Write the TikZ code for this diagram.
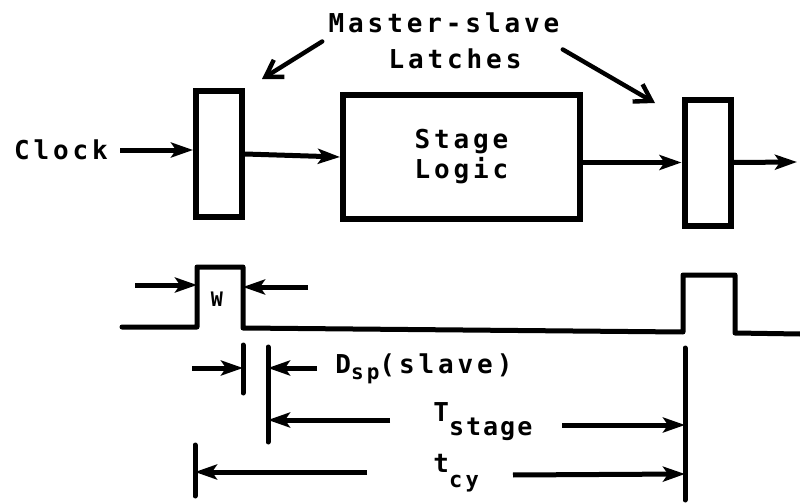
\documentclass[tikz,border=0pt]{standalone}
\usepackage{fontspec}
\setmainfont{DejaVu Sans Mono}[LetterSpace=15]
\usetikzlibrary{arrows.meta,positioning}

\begin{document}
\begin{tikzpicture}[x=0.5pt,y=-0.5pt,
  box/.style={draw,line width=3pt,inner sep=0pt},
  latch/.style={box,minimum width=23pt,minimum height=63pt},
  sig/.style={line width=2.5pt,-{Stealth[length=11pt,width=7.5pt,inset=2.5pt]}},
  pointer/.style={line width=2.2pt,line cap=round,-{Straight Barb[length=8pt,width=10pt]}},
  tick/.style={line width=2.5pt,line cap=round},
  wave/.style={line width=2.5pt,line join=round,line cap=round},
  lbl/.style={font=\fontsize{13}{15}\selectfont\bfseries,inner sep=0pt}]
\useasboundingbox (0,0) rectangle (800,503);
% block diagram
\node[latch] (L1) at (219,154) {};
\node[box,minimum width=118.5pt,minimum height=62pt,lbl,align=center] (SL) at (461.5,157) {Stage\\Logic};
\node[latch] (L2) at (707.5,162.5) {};
\node[lbl] (clk) at (61,150) {Clock};
\coordinate (out) at (797,162);
\draw[sig] ([xshift=6pt]clk.east) -- (clk.east -| L1.west);
\draw[sig] (L1.east) -- (SL.west);
\draw[sig] (SL.east |- L2.west) -- (L2.west);
\draw[sig] (L2.east) -- (out);
\node[lbl] (ms1) at (444,23) {Master-slave};
\node[lbl] (ms2) at (455,59) {Latches};
\coordinate (p1) at (262,79);
\coordinate (p2) at (655,103);
\draw[pointer] ([shift={(-6,8)}]ms1.south west) -- (p1);
\draw[pointer] ([shift={(3,16)}]ms1.south east) -- (p2);
% clock waveform
\draw[wave] (122,327) -- (197,327) -- (197,267) -- (243,267) -- (243,328)
  -- (683,332) -- (683,275) -- (735,275) -- (735,333) -- (800,334);
\draw[sig] (135,285) -- (197,285);
\draw[sig] (308,287) -- (243,287);
\node[font=\fontsize{10}{12}\selectfont\bfseries,inner sep=0pt] (w) at (217,299) {W};
% timing
\draw[tick] (243,345) -- (243,393);
\draw[tick] (268,347) -- (268,442);
\draw[tick] (685,348) -- (685,500);
\draw[tick] (195,445) -- (195,496);
\draw[sig] (192,368) -- (243,368);
\draw[sig] (317,368) -- (268,368);
\node[lbl,anchor=base west] (dsp) at (335,373) {D\raisebox{-3pt}{\fontsize{10.5}{12}\selectfont sp}(slave)};
\draw[sig] (390,420) -- (268,420);
\draw[sig] (562,425) -- (685,425);
\node[lbl,anchor=base west] (tst) at (433,422) {T\raisebox{-6.5pt}{\fontsize{12.5}{15}\selectfont\addfontfeatures{LetterSpace=8}stage}};
\draw[sig] (367,472) -- (195,472);
\draw[sig] (513,475) -- (685,474);
\node[lbl,anchor=base west] (tcy) at (433,473) {t\raisebox{-7pt}{\fontsize{11}{13}\selectfont cy}};
\end{tikzpicture}
\end{document}
